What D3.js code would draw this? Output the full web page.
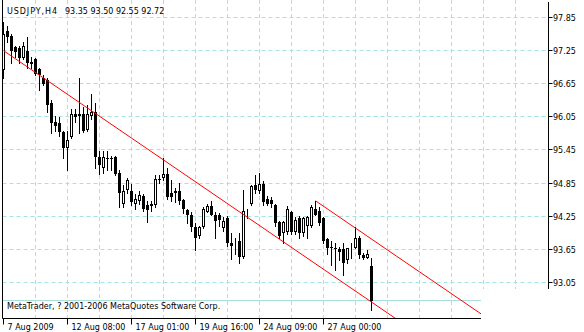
<!DOCTYPE html>
<html>
<head>
<meta charset="utf-8">
<script src="https://cdn.jsdelivr.net/npm/d3@7"></script>
<style>
  body { margin: 0; background: #fff; }
  svg { display: block; }
  text { font-family: "DejaVu Sans", sans-serif; font-size: 8px; fill: #000; }
</style>
</head>
<body>
<div id="chart"></div>
<script>
// USDJPY H4 candles, 7 Aug - 28 Aug 2009
var opens = [96.89, 97.60, 97.52, 97.31, 97.29, 97.11, 97.25, 97.00, 97.09, 96.91,
  96.76, 96.71, 96.31, 95.95, 95.93, 95.77, 95.49, 95.68, 96.11, 96.06,
  96.11, 95.82, 96.06, 96.13, 95.33, 95.13, 95.31, 95.31, 95.33, 95.04,
  94.48, 94.72, 94.70, 94.48, 94.53, 94.61, 94.46, 94.43, 94.45, 94.93,
  94.95, 95.02, 94.68, 94.70, 94.70, 94.55, 94.37, 94.28, 94.06, 93.90,
  94.05, 94.32, 94.43, 94.27, 94.27, 94.03, 94.21, 93.77, 93.76, 93.81,
  93.52, 94.32, 94.48, 94.81, 94.70, 94.84, 94.57, 94.55, 94.46, 94.14,
  93.94, 93.96, 94.32, 93.96, 94.21, 93.94, 94.08, 94.08, 94.39, 94.34,
  94.21, 93.83, 93.70, 93.68, 93.65, 93.65, 93.45, 93.67, 93.68, 93.86,
  93.54, 93.50, 93.35];
var highs = [97.76, 97.70, 97.56, 97.34, 97.34, 97.40, 97.49, 97.13, 97.11, 96.93,
  96.80, 96.75, 96.35, 96.07, 96.04, 95.80, 95.80, 96.20, 96.20, 96.75,
  96.22, 96.26, 96.47, 96.31, 95.44, 95.44, 95.44, 95.35, 95.35, 95.08,
  94.81, 94.95, 94.84, 94.66, 94.70, 94.66, 94.53, 94.53, 94.99, 94.99,
  95.30, 95.13, 94.90, 94.77, 94.86, 94.57, 94.39, 94.32, 94.12, 94.08,
  94.41, 94.48, 94.53, 94.32, 94.30, 94.23, 94.25, 93.94, 93.86, 93.94,
  94.72, 94.39, 94.82, 94.99, 95.04, 94.88, 94.61, 94.59, 94.48, 94.16,
  94.17, 94.43, 94.35, 94.23, 94.25, 94.23, 94.25, 94.45, 94.53, 94.41,
  94.23, 93.86, 93.81, 93.76, 93.70, 93.76, 93.68, 93.76, 94.05, 93.90,
  93.59, 93.63, 93.50];
var lows = [96.75, 97.40, 97.03, 97.13, 97.03, 97.09, 96.94, 96.94, 96.80, 96.53,
  96.62, 96.13, 95.75, 95.80, 95.71, 95.31, 95.08, 95.66, 95.95, 95.75,
  95.77, 95.79, 96.02, 95.13, 95.02, 95.04, 95.08, 95.08, 94.99, 94.41,
  94.41, 94.68, 94.46, 94.39, 94.48, 94.35, 94.14, 94.35, 94.41, 94.86,
  94.90, 94.57, 94.53, 94.50, 94.48, 94.30, 94.12, 93.99, 93.63, 93.86,
  94.03, 94.32, 94.27, 93.85, 94.08, 93.99, 93.72, 93.48, 93.57, 93.40,
  93.50, 94.21, 94.46, 94.68, 94.68, 94.46, 94.45, 94.41, 94.08, 93.86,
  93.77, 93.92, 93.92, 93.92, 93.86, 93.90, 93.86, 94.06, 94.27, 94.10,
  93.76, 93.57, 93.36, 93.27, 93.45, 93.18, 93.41, 93.50, 93.67, 93.50,
  93.47, 93.50, 92.55];
var closes = [97.56, 97.49, 97.25, 97.23, 97.11, 97.34, 97.03, 97.05, 96.83, 96.80,
  96.65, 96.26, 95.93, 95.89, 95.77, 95.48, 95.64, 96.11, 96.04, 96.11,
  95.80, 96.11, 96.13, 95.33, 95.17, 95.33, 95.30, 95.28, 95.02, 94.68,
  94.70, 94.90, 94.50, 94.57, 94.63, 94.39, 94.37, 94.48, 94.92, 94.90,
  95.02, 94.59, 94.59, 94.68, 94.53, 94.39, 94.28, 94.05, 93.86, 94.05,
  94.39, 94.43, 94.28, 94.17, 94.19, 94.17, 93.76, 93.72, 93.79, 93.52,
  94.35, 94.35, 94.79, 94.72, 94.84, 94.50, 94.48, 94.48, 94.12, 93.90,
  94.14, 94.39, 93.96, 94.19, 93.94, 94.21, 94.23, 94.41, 94.28, 94.12,
  93.81, 93.68, 93.68, 93.65, 93.61, 93.41, 93.67, 93.70, 93.85, 93.54,
  93.50, 93.57, 92.72];

var symbolText = "USDJPY,H4";
var quoteText = "93.35 93.50 92.55 92.72";
var copyrightText = "MetaTrader, ? 2001-2006 MetaQuotes Software Corp.";

var priceTicks = [97.85, 97.25, 96.65, 96.05, 95.45, 94.85, 94.25, 93.65, 93.05];
var timeLabels = ["7 Aug 2009", "12 Aug 08:00", "17 Aug 01:00", "19 Aug 16:00", "24 Aug 09:00", "27 Aug 00:00"];
var timeLabelBars = [0, 16, 32, 48, 64, 80];

var bidPrice = 92.72;
// channel: anchor bars / prices, fall per bar
var channelBars = [0, 78];
var channelPrices = [97.25, 94.53];
var channelStep = -0.0495;
var channelEnd = 130;

var width = 584, height = 332;
var left = 2.5, right = 548.5, bottom = 318.5;
var gridColor = "#a6e3e3";

var x = d3.scaleLinear().domain([0, 136]).range([3.5, 547.5]);
var y = d3.scaleLinear().domain([93.05, 97.85]).range([282.5, 17.5]);

function crisp(v) { return Math.round(v - 0.5) + 0.5; }

var svg = d3.select("#chart").append("svg")
  .attr("width", width)
  .attr("height", height);

svg.append("defs").append("clipPath").attr("id", "plotclip")
  .append("rect").attr("x", left).attr("y", 0)
  .attr("width", right - left).attr("height", bottom);

// grid
svg.append("g").selectAll("line.h")
  .data(priceTicks).enter().append("line")
  .attr("x1", left).attr("x2", right)
  .attr("y1", function (d) { return crisp(y(d)); })
  .attr("y2", function (d) { return crisp(y(d)); })
  .attr("stroke", gridColor)
  .attr("stroke-dasharray", "4,3");

svg.append("g").selectAll("line.v")
  .data(d3.range(8, 136, 8)).enter().append("line")
  .attr("x1", function (d) { return x(d); })
  .attr("x2", function (d) { return x(d); })
  .attr("y1", 0).attr("y2", bottom)
  .attr("stroke", gridColor)
  .attr("stroke-dasharray", "4,3");

// bid line
svg.append("line")
  .attr("x1", left).attr("x2", right)
  .attr("y1", crisp(y(bidPrice))).attr("y2", crisp(y(bidPrice)))
  .attr("stroke", "#a8dede");

// candles
var bars = d3.range(opens.length).map(function (i) {
  return { i: i, o: opens[i], h: highs[i], l: lows[i], c: closes[i] };
});

var candle = svg.append("g").selectAll("g")
  .data(bars).enter().append("g");

candle.append("line")
  .attr("x1", function (d) { return x(d.i); })
  .attr("x2", function (d) { return x(d.i); })
  .attr("y1", function (d) { return Math.round(y(d.h)); })
  .attr("y2", function (d) { return Math.round(y(d.l)) + 1; })
  .attr("stroke", "#000");

candle.append("rect")
  .attr("x", function (d) { return d.c < d.o ? x(d.i) - 1.5 : x(d.i) - 1; })
  .attr("y", function (d) {
    var t = Math.round(y(Math.max(d.o, d.c)));
    return d.c < d.o ? t : t + 0.5;
  })
  .attr("width", function (d) { return d.c < d.o ? 3 : 2; })
  .attr("height", function (d) {
    var t = Math.round(y(Math.max(d.o, d.c))), b = Math.round(y(Math.min(d.o, d.c)));
    return d.c < d.o ? Math.max(1, b - t) : Math.max(0, b - t - 1);
  })
  .attr("fill", function (d) { return d.c < d.o ? "#000" : "#fff"; })
  .attr("stroke", function (d) { return d.c < d.o ? "none" : "#000"; });

// channel lines
var channel = svg.append("g").attr("clip-path", "url(#plotclip)");
channelBars.forEach(function (b, k) {
  channel.append("line")
    .attr("x1", x(b)).attr("y1", y(channelPrices[k]))
    .attr("x2", x(channelEnd))
    .attr("y2", y(channelPrices[k] + channelStep * (channelEnd - b)))
    .attr("stroke", "#ff0000");
});

// frame
svg.append("line").attr("x1", left).attr("x2", left).attr("y1", 0).attr("y2", bottom).attr("stroke", "#000");
svg.append("line").attr("x1", right).attr("x2", right).attr("y1", 2).attr("y2", bottom).attr("stroke", "#000");
svg.append("line").attr("x1", left).attr("x2", right).attr("y1", bottom).attr("y2", bottom).attr("stroke", "#000");

// price axis
var yAxis = svg.append("g");
yAxis.selectAll("line").data(priceTicks).enter().append("line")
  .attr("x1", right).attr("x2", right + 4)
  .attr("y1", function (d) { return crisp(y(d)); })
  .attr("y2", function (d) { return crisp(y(d)); })
  .attr("stroke", "#000");
yAxis.selectAll("text").data(priceTicks).enter().append("text")
  .attr("x", 553)
  .attr("y", function (d) { return crisp(y(d)) + 3; })
  .text(function (d) { return d.toFixed(2); });

// time axis
var xAxis = svg.append("g");
xAxis.selectAll("line").data(timeLabelBars).enter().append("line")
  .attr("x1", function (d) { return x(d); })
  .attr("x2", function (d) { return x(d); })
  .attr("y1", bottom).attr("y2", bottom + 6)
  .attr("stroke", "#000");
xAxis.selectAll("text").data(timeLabelBars).enter().append("text")
  .attr("x", function (d) { return x(d) + 4; })
  .attr("y", 330)
  .text(function (d, k) { return timeLabels[k]; });

// titles
svg.append("text").attr("x", 7).attr("y", 14)
  .attr("textLength", 50).attr("lengthAdjust", "spacing").text(symbolText);
svg.append("text").attr("x", 65).attr("y", 14).text(quoteText);
svg.append("text").attr("x", 7).attr("y", 309).text(copyrightText);

// erased corner
svg.append("rect").attr("x", 481).attr("y", 289)
  .attr("width", 103).attr("height", 43).attr("fill", "#fff");
</script>
</body>
</html>
